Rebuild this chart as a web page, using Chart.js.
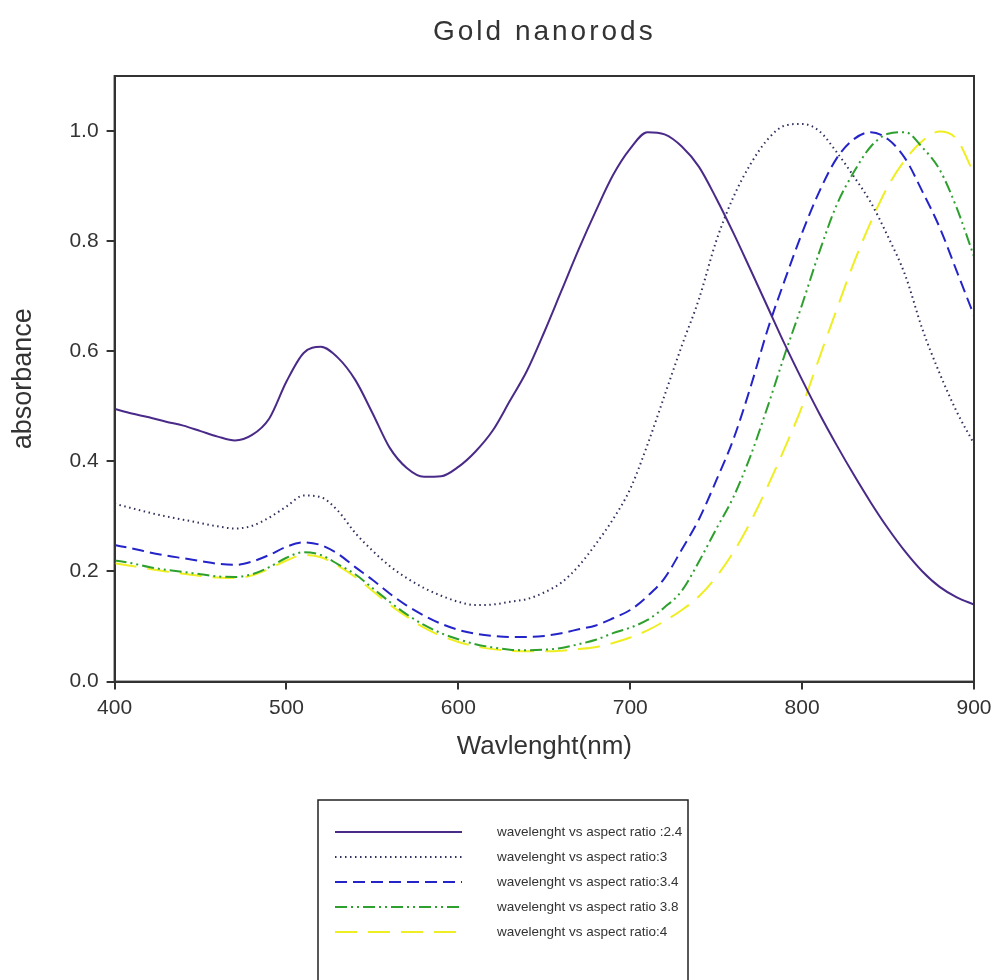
<!DOCTYPE html>
<html>
<head>
<meta charset="utf-8">
<script src="https://cdn.jsdelivr.net/npm/chart.js@4.4.1/dist/chart.umd.min.js"></script>
<style>
  body { margin: 0; background: #fff; }
  #wrap { width: 993px; height: 980px; }
</style>
</head>
<body>
<div id="wrap"><canvas id="myChart"></canvas></div>
<script>
// wavelength grid (nm)
const wavelength = [400, 410, 420, 430, 440, 450, 460, 470, 480, 490,
  500, 510, 520, 530, 540, 550, 560, 570, 580, 590,
  600, 610, 620, 630, 640, 650, 660, 670, 680, 690,
  700, 710, 720, 730, 740, 750, 760, 770, 780, 790,
  800, 810, 820, 830, 840, 850, 860, 870, 880, 890, 900];

const ratio24 = [0.495, 0.487, 0.480, 0.472, 0.465, 0.455, 0.445, 0.438, 0.448, 0.478,
  0.545, 0.597, 0.608, 0.588, 0.548, 0.488, 0.425, 0.388, 0.372, 0.373,
  0.390, 0.418, 0.456, 0.510, 0.565, 0.635, 0.710, 0.785, 0.855, 0.920,
  0.968, 0.998, 0.994, 0.972, 0.935, 0.878, 0.815, 0.748, 0.680, 0.612,
  0.548, 0.487, 0.430, 0.376, 0.325, 0.278, 0.236, 0.200, 0.172, 0.153, 0.140];

const ratio3 = [0.323, 0.315, 0.307, 0.300, 0.294, 0.288, 0.282, 0.278, 0.283, 0.298,
  0.318, 0.338, 0.335, 0.310, 0.270, 0.238, 0.210, 0.188, 0.170, 0.156,
  0.145, 0.139, 0.140, 0.145, 0.150, 0.162, 0.180, 0.210, 0.250, 0.295,
  0.350, 0.430, 0.520, 0.610, 0.695, 0.800, 0.880, 0.940, 0.985, 1.010,
  1.013, 1.000, 0.962, 0.918, 0.870, 0.808, 0.738, 0.640, 0.560, 0.490, 0.432];

const ratio34 = [0.248, 0.242, 0.235, 0.229, 0.224, 0.219, 0.214, 0.212, 0.218, 0.230,
  0.245, 0.253, 0.248, 0.232, 0.208, 0.185, 0.160, 0.138, 0.120, 0.105,
  0.094, 0.087, 0.083, 0.081, 0.081, 0.083, 0.088, 0.095, 0.102, 0.115,
  0.130, 0.155, 0.188, 0.240, 0.295, 0.365, 0.440, 0.535, 0.640, 0.730,
  0.815, 0.890, 0.950, 0.985, 0.998, 0.985, 0.950, 0.890, 0.825, 0.745, 0.665];

const ratio38 = [0.220, 0.215, 0.208, 0.203, 0.199, 0.195, 0.191, 0.190, 0.195, 0.208,
  0.225, 0.235, 0.230, 0.213, 0.195, 0.170, 0.145, 0.122, 0.103, 0.088,
  0.077, 0.068, 0.062, 0.058, 0.057, 0.058, 0.061, 0.068, 0.076, 0.088,
  0.098, 0.112, 0.135, 0.165, 0.218, 0.277, 0.335, 0.410, 0.500, 0.595,
  0.685, 0.780, 0.865, 0.925, 0.972, 0.995, 0.998, 0.970, 0.930, 0.860, 0.772];

const ratio4 = [0.215, 0.210, 0.205, 0.200, 0.196, 0.192, 0.189, 0.188, 0.193, 0.205,
  0.220, 0.230, 0.226, 0.210, 0.190, 0.165, 0.140, 0.118, 0.098, 0.083,
  0.072, 0.064, 0.059, 0.056, 0.055, 0.055, 0.056, 0.059, 0.063, 0.070,
  0.080, 0.093, 0.110, 0.130, 0.155, 0.190, 0.235, 0.290, 0.355, 0.425,
  0.500, 0.588, 0.675, 0.760, 0.835, 0.900, 0.948, 0.982, 0.999, 0.985, 0.922];

const seriesLabels = [
  'wavelenght vs aspect ratio :2.4',
  'wavelenght vs aspect ratio:3',
  'wavelenght vs aspect ratio:3.4',
  'wavelenght vs aspect ratio 3.8',
  'wavelenght vs aspect ratio:4'
];

const yTicks = [0, 0.2, 0.4, 0.6, 0.8, 1.0];

const FONT = "'Liberation Sans', Arial, sans-serif";
const TEXT = '#333';

function toPoints(values) {
  return wavelength.map((w, i) => ({ x: w, y: values[i] }));
}

function line(label, values, color, dash) {
  return {
    label: label,
    data: toPoints(values),
    borderColor: color,
    backgroundColor: color,
    borderWidth: 2,
    borderDash: dash,
    pointRadius: 0,
    fill: false,
    cubicInterpolationMode: 'monotone'
  };
}

// frame around the plot, the title and the boxed legend
const decorations = {
  id: 'decorations',
  afterDraw(chart) {
    const ctx = chart.ctx;
    const a = chart.chartArea;
    ctx.save();
    ctx.strokeStyle = '#333';
    ctx.lineWidth = 2;
    ctx.strokeRect(a.left, a.top, a.right - a.left, a.bottom - a.top);

    ctx.fillStyle = TEXT;
    ctx.font = '28px ' + FONT;
    ctx.letterSpacing = '3px';
    ctx.textAlign = 'center';
    ctx.textBaseline = 'middle';
    ctx.fillText('Gold nanorods', (a.left + a.right) / 2, 32);
    ctx.letterSpacing = '0px';

    // legend
    const bx = 318, by = 800, bw = 370;
    ctx.lineWidth = 1.5;
    ctx.strokeStyle = '#222';
    ctx.setLineDash([]);
    ctx.strokeRect(bx, by, bw, 200);
    ctx.font = '13.5px ' + FONT;
    ctx.textAlign = 'left';
    chart.data.datasets.forEach((ds, i) => {
      const y = by + 32 + i * 25;
      ctx.strokeStyle = ds.borderColor;
      ctx.lineWidth = 2;
      ctx.setLineDash(ds.borderDash || []);
      ctx.beginPath();
      ctx.moveTo(bx + 17, y);
      ctx.lineTo(bx + 144, y);
      ctx.stroke();
      ctx.setLineDash([]);
      ctx.fillStyle = TEXT;
      ctx.fillText(ds.label, bx + 179, y);
    });
    ctx.restore();
  }
};

const ctx = document.getElementById('myChart');

new Chart(ctx, {
  type: 'line',
  data: {
    datasets: [
      line(seriesLabels[0], ratio24, '#4a2a88', []),
      line(seriesLabels[1], ratio3, '#2f2f5c', [1.5, 3.5]),
      line(seriesLabels[2], ratio34, '#2424c8', [12, 6]),
      line(seriesLabels[3], ratio38, '#2ea02e', [12, 4, 2, 4, 2, 4]),
      line(seriesLabels[4], ratio4, '#eeee22', [22, 11])
    ]
  },
  options: {
    responsive: true,
    maintainAspectRatio: false,
    animation: false,
    layout: { padding: { top: 76, left: 7, right: 19, bottom: 214 } },
    plugins: {
      legend: { display: false },
      tooltip: { enabled: false }
    },
    scales: {
      x: {
        type: 'linear',
        min: 400,
        max: 900,
        afterFit(scale) {
          scale.paddingLeft = 0;
          scale.paddingRight = 0;
        },
        ticks: { stepSize: 100, color: TEXT, font: { family: FONT, size: 21 }, padding: 6 },
        grid: { display: true, drawOnChartArea: false, drawTicks: true, tickLength: 8, color: '#333', lineWidth: 2 },
        border: { display: true, color: '#333', width: 2 },
        title: { display: true, text: 'Wavlenght(nm)', color: TEXT, font: { family: FONT, size: 26 }, padding: { top: 4, bottom: 4 } }
      },
      y: {
        min: 0,
        max: 1.1,
        afterBuildTicks(axis) {
          axis.ticks = yTicks.map(v => ({ value: v }));
        },
        ticks: {
          color: TEXT,
          font: { family: FONT, size: 21 },
          padding: 8,
          callback: v => v.toFixed(1)
        },
        grid: { display: true, drawOnChartArea: false, drawTicks: true, tickLength: 8, color: '#333', lineWidth: 2 },
        border: { display: true, color: '#333', width: 2 },
        title: { display: true, text: 'absorbance', color: TEXT, font: { family: FONT, size: 27 }, padding: { top: 0, bottom: 22 } }
      }
    }
  },
  plugins: [decorations]
});
</script>
</body>
</html>
